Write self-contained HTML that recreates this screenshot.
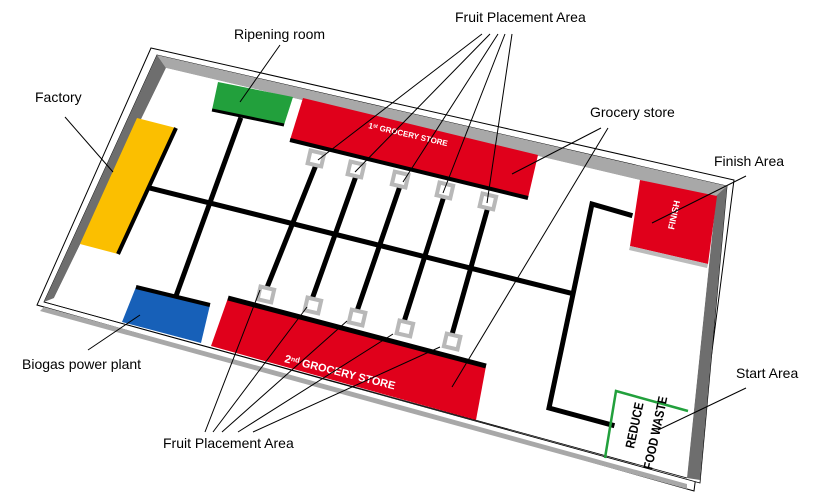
<!DOCTYPE html>
<html><head><meta charset="utf-8"><style>
html,body{margin:0;padding:0;background:#fff;}
svg{display:block;font-family:"Liberation Sans",sans-serif;}
</style></head><body>
<svg width="825" height="495" viewBox="0 0 825 495" xmlns="http://www.w3.org/2000/svg">
<!-- board outer -->
<polygon points="151,48 734,180 694,491 37,305" fill="#fff" stroke="#000" stroke-width="1"/>
<polygon points="157,55 727,186 700,483 44,302" fill="#fff" stroke="#000" stroke-width="0.8"/>
<!-- walls -->
<polygon points="157,55 727,186 716,198 166,68" fill="#a8a8a8"/>
<polygon points="157,55 166,68 54,298 44,302" fill="#6e6e6e"/>
<polygon points="727,186 700,480 687,478 716,196" fill="#6e6e6e"/>
<!-- floor -->
<polygon points="166,68 716,198 687,476 54,298" fill="#fff"/>
<line x1="44" y1="302" x2="687" y2="478" stroke="#000" stroke-width="0.8"/>
<polygon points="44,307 687,484 687,489 40,311" fill="#a8a8a8"/>
<!-- lines -->
<g stroke="#000" stroke-width="5" fill="none" stroke-linecap="square">
<line x1="150" y1="188" x2="570" y2="293"/>
<line x1="240" y1="120" x2="176" y2="296"/>
<line x1="316" y1="165" x2="266" y2="290"/>
<line x1="356" y1="176" x2="311" y2="302"/>
<line x1="400" y1="186" x2="356" y2="314"/>
<line x1="444" y1="196" x2="403" y2="325"/>
<line x1="488" y1="207" x2="451" y2="338"/>
<polyline points="630,215 592,204 549,408 612,425"/>
</g>
<!-- factory -->
<polygon points="137,118 176,128 118,254 80,244" fill="#fbbf00"/>
<line x1="176" y1="128" x2="118" y2="254" stroke="#000" stroke-width="4"/>
<!-- ripening -->
<polygon points="218,82 293,97 284,125 212,110" fill="#22a03c"/>
<line x1="212" y1="110" x2="284" y2="125" stroke="#000" stroke-width="3"/>
<!-- grocery 1 -->
<polygon points="303,98 538,155 528,198 290,140" fill="#e0001b"/>
<line x1="290" y1="140" x2="528" y2="198" stroke="#000" stroke-width="4"/>
<text x="0" y="0" transform="translate(368,128) rotate(13)" font-size="8" font-weight="bold" fill="#fff">1ˢᵗ GROCERY STORE</text>
<!-- biogas -->
<polygon points="136,287 210,305 201,343 122,322" fill="#1760b8"/>
<line x1="136" y1="287" x2="210" y2="305" stroke="#000" stroke-width="4"/>
<!-- grocery 2 -->
<polygon points="228,298 486,366 476,420 211,346" fill="#e0001b"/>
<line x1="228" y1="298" x2="486" y2="366" stroke="#000" stroke-width="5"/>
<text x="0" y="0" transform="translate(284,362) rotate(14)" font-size="11" font-weight="bold" fill="#fff">2ⁿᵈ GROCERY STORE</text>
<!-- squares -->
<g fill="#fff" stroke="#b8b8b8" stroke-width="4">
<rect x="309" y="152" width="14" height="13" transform="rotate(13 316 158)"/>
<rect x="349" y="163" width="14" height="13" transform="rotate(13 356 169)"/>
<rect x="393" y="173" width="14" height="13" transform="rotate(13 400 180)"/>
<rect x="438" y="184" width="14" height="13" transform="rotate(13 445 190)"/>
<rect x="481" y="195" width="14" height="13" transform="rotate(13 488 201)"/>
<rect x="259" y="288" width="14" height="13" transform="rotate(13 266 294)"/>
<rect x="306" y="299" width="14" height="13" transform="rotate(13 313 305)"/>
<rect x="350" y="311" width="14" height="13" transform="rotate(13 357 318)"/>
<rect x="398" y="322" width="14" height="13" transform="rotate(13 405 328)"/>
<rect x="445" y="335" width="14" height="13" transform="rotate(13 452 342)"/>
</g>
<!-- finish -->
<polygon points="640,180 717,196 708,264 630,246" fill="#e0001b"/>
<polygon points="630,246 708,264 707,268 629,250" fill="#bbb"/>
<text x="0" y="0" transform="translate(674,230) rotate(-78)" font-size="9" font-weight="bold" fill="#fff">FINISH</text>
<!-- start -->
<polyline points="605,458 616,391 688,411" fill="none" stroke="#22a03c" stroke-width="2.5"/>
<text x="0" y="0" transform="translate(634,449) rotate(-78) scale(0.85,1)" font-size="13" font-weight="bold" fill="#000">REDUCE</text>
<text x="0" y="0" transform="translate(652,470) rotate(-78) scale(0.85,1)" font-size="13" font-weight="bold" fill="#000">FOOD WASTE</text>
<!-- leader lines -->
<g stroke="#000" stroke-width="1">
<line x1="65" y1="117" x2="113" y2="172"/>
<line x1="280" y1="45" x2="240" y2="102"/>
<line x1="482" y1="34" x2="318" y2="160"/>
<line x1="490" y1="34" x2="355" y2="172"/>
<line x1="498" y1="34" x2="403" y2="182"/>
<line x1="505" y1="34" x2="443" y2="193"/>
<line x1="512" y1="34" x2="487" y2="203"/>
<line x1="601" y1="128" x2="512" y2="174"/>
<line x1="608" y1="128" x2="452" y2="387"/>
<line x1="746" y1="176" x2="652" y2="223"/>
<line x1="746" y1="388" x2="658" y2="430"/>
<line x1="88" y1="350" x2="140" y2="315"/>
<line x1="205" y1="432" x2="260" y2="290"/>
<line x1="213" y1="432" x2="307" y2="307"/>
<line x1="222" y1="432" x2="347" y2="321"/>
<line x1="238" y1="432" x2="393" y2="334"/>
<line x1="253" y1="432" x2="440" y2="347"/>
</g>
<!-- labels -->
<g font-size="14" fill="#000">
<text x="35" y="102">Factory</text>
<text x="234" y="39">Ripening room</text>
<text x="455" y="22">Fruit Placement Area</text>
<text x="590" y="117">Grocery store</text>
<text x="714" y="166">Finish Area</text>
<text x="736" y="378">Start Area</text>
<text x="22" y="369">Biogas power plant</text>
<text x="163" y="448">Fruit Placement Area</text>
</g>
</svg>
</body></html>
